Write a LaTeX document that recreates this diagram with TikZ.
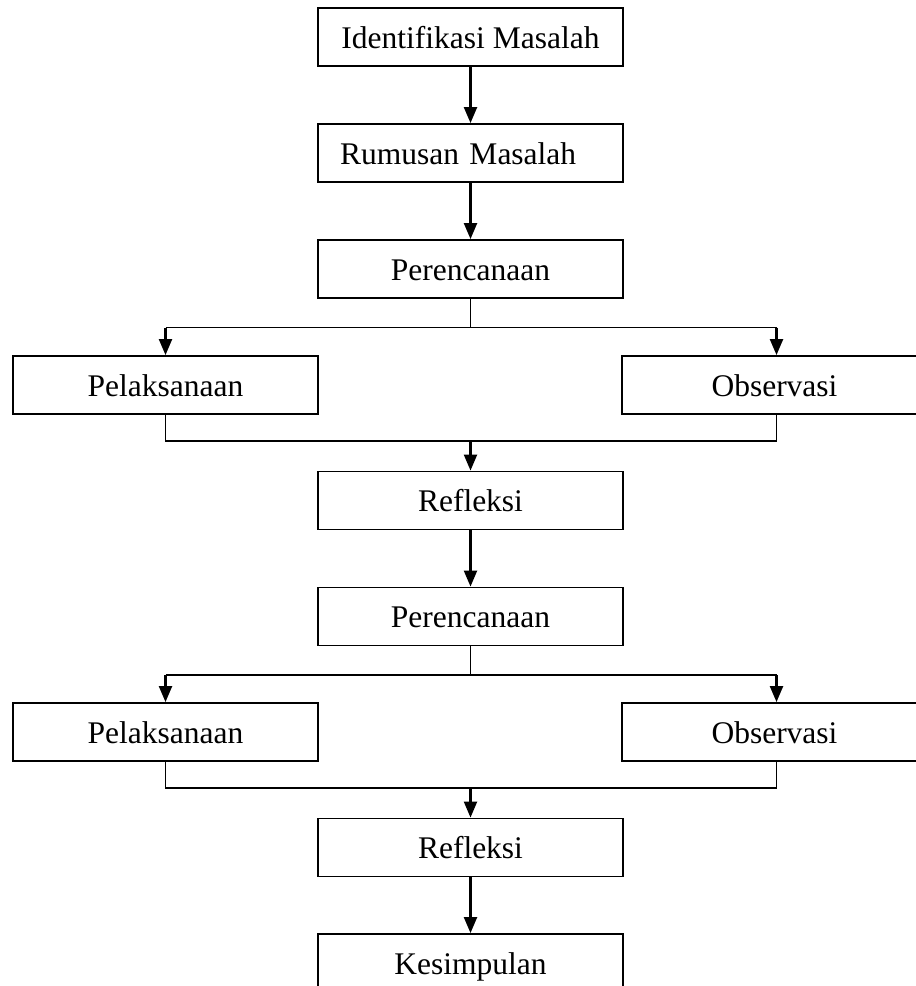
\documentclass[tikz,border=0pt]{standalone}
\usepackage{fontspec}
\setmainfont{Liberation Serif}
\usetikzlibrary{arrows.meta}
\begin{document}
\begin{tikzpicture}[x=1pt,y=-1pt,
  box/.style={draw, line width=1.9pt, minimum width=305pt, minimum height=58pt, inner sep=0pt,
    text height=29pt, text depth=7pt, font=\fontsize{31.5}{36}\selectfont},
  arr/.style={line width=2.3pt, -{Triangle[length=16pt,width=13pt]}},
  thinline/.style={line width=1.2pt},
  midline/.style={line width=1.8pt}]
\useasboundingbox (0,0) rectangle (916,986);
\clip (0,0) rectangle (916,986);
\node[box] (idm) at (470.5,37) {Identifikasi Masalah};
\node[box, text width=261pt, inner xsep=22pt, align=left] (rum) at (470.5,153) {Rumusan Masalah};
\node[box] (per1) at (470.5,269) {Perencanaan};
\node[box] (pel1) at (165.5,385) {Pelaksanaan};
\node[box] (obs1) at (774.5,385) {Observasi};
\node[box] (ref1) at (470.5,500.5) {Refleksi};
\node[box] (per2) at (470.5,616.5) {Perencanaan};
\node[box] (pel2) at (165.5,732) {Pelaksanaan};
\node[box] (obs2) at (774.5,732) {Observasi};
\node[box] (ref2) at (470.5,847.5) {Refleksi};
\node[box] (kes) at (470.5,963) {Kesimpulan};

\coordinate (s1) at (470.5,327.5);
\coordinate (s1l) at (165.5,327.5);
\coordinate (s1r) at (776.5,327.5);
\coordinate (j1) at (470.5,441);
\coordinate (j1l) at (165.5,441);
\coordinate (j1r) at (776.5,441);
\coordinate (s2) at (470.5,675);
\coordinate (s2l) at (165.5,675);
\coordinate (s2r) at (776.5,675);
\coordinate (j2) at (470.5,788);
\coordinate (j2l) at (165.5,788);
\coordinate (j2r) at (776.5,788);

\draw[arr] (idm.south) -- (rum.north);
\draw[arr] (rum.south) -- (per1.north);

\draw[thinline] (per1.south) -- (s1);
\draw[midline] (s1l) -- (s1r);
\draw[arr] (s1l) -- (pel1.north -| s1l);
\draw[arr] (s1r) -- (obs1.north -| s1r);
\draw[thinline] (pel1.south -| j1l) -- (j1l) -- (j1r) -- (obs1.south -| j1r);
\draw[arr] (j1) -- (ref1.north);
\draw[arr] (ref1.south) -- (per2.north);

\draw[thinline] (per2.south) -- (s2);
\draw[midline] (s2l) -- (s2r);
\draw[arr] (s2l) -- (pel2.north -| s2l);
\draw[arr] (s2r) -- (obs2.north -| s2r);
\draw[thinline] (pel2.south -| j2l) -- (j2l) -- (j2r) -- (obs2.south -| j2r);
\draw[arr] (j2) -- (ref2.north);
\draw[arr] (ref2.south) -- (kes.north);
\end{tikzpicture}
\end{document}
